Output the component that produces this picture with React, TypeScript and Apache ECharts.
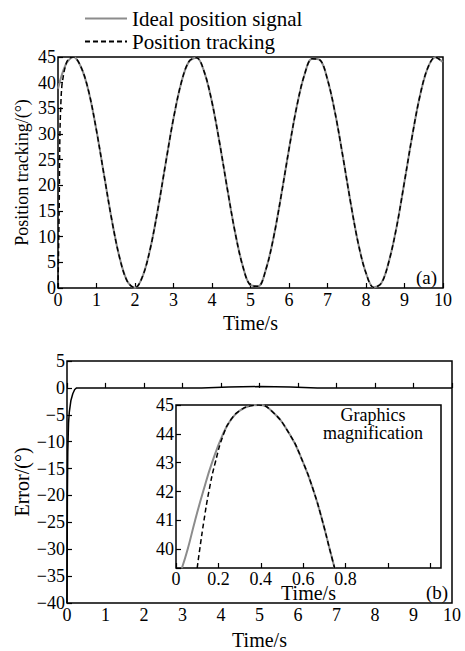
import React, { useEffect, useRef } from "react";
import * as echarts from "echarts";

// ---- data ----
const mainTime = [
  0, 0.2, 0.4, 0.6, 0.8, 1.0, 1.2, 1.4, 1.6, 1.8, 2.0, 2.2, 2.4, 2.6, 2.8, 3.0, 3.2, 3.4, 3.6, 3.8,
  4.0, 4.2, 4.4, 4.6, 4.8, 5.0, 5.2, 5.4, 5.6, 5.8, 6.0, 6.2, 6.4, 6.6, 6.8, 7.0, 7.2, 7.4, 7.6, 7.8,
  8.0, 8.2, 8.4, 8.6, 8.8, 9.0, 9.2, 9.4, 9.6, 9.8, 10.0,
];
const idealPosition = [
  38.8, 43.5, 45, 43.0, 38.2, 30.65, 21.84, 13.14, 5.91, 1.3, 0.04, 2.32, 7.79, 15.59, 24.47, 33.04,
  39.95, 44.1, 44.86, 42.06, 36.19, 28.15, 19.23, 10.82, 4.25, 0.57, 0.34, 3.62, 9.88, 18.13, 27.07,
  35.29, 41.49, 44.65, 44.44, 40.6, 34.0, 25.58, 16.65, 8.64, 2.9, 0.11, 0.95, 5.32, 12.1, 20.74,
  29.6, 37.4, 42.8, 44.97, 44.0,
];
const trackStartTime = [0, 0.03, 0.05, 0.08, 0.1, 0.112, 0.132, 0.155, 0.185, 0.225, 0.26, 0.3];
const trackStartValue = [0, 15, 30, 37, 39.35, 40, 41, 42, 43, 44, 44.5, 44.8];

const errorTime = [0, 0.005, 0.01, 0.02, 0.04, 0.06, 0.1, 0.15, 0.2, 0.25, 3.5, 4.2, 5, 5.8, 6.5, 10];
const errorValue = [-40, -30, -20, -12, -6.5, -4.5, -2.4, -1.1, -0.3, 0, 0, 0.15, 0.25, 0.15, 0, 0];

const insetIdealTime = [0.028, 0.055, 0.09, 0.128, 0.17, 0.222, 0.26, 0.3, 0.35, 0.39, 0.45, 0.535, 0.6, 0.65, 0.69, 0.725, 0.748];
const insetIdealValue = [39.35, 40, 41, 42, 43, 44, 44.5, 44.8, 44.97, 45, 44.8, 44, 43, 42, 41, 40, 39.35];
const insetTrackTime = [0.1, 0.112, 0.132, 0.155, 0.185, 0.225, 0.26, 0.3, 0.35, 0.39, 0.45, 0.535, 0.6, 0.65, 0.69, 0.725, 0.748];
const insetTrackValue = [39.35, 40, 41, 42, 43, 44, 44.5, 44.8, 44.97, 45, 44.8, 44, 43, 42, 41, 40, 39.35];

const mainXTicks = { min: 0, max: 10, interval: 1 };
const posYTicks = { min: 0, max: 45, interval: 5 };
const errYTicks = { min: -40, max: 5, interval: 5 };
const insetXTicks = { min: 0, max: 1.25, interval: 0.2, lastLabel: 0.8 };
const insetYTicks = { min: 39.35, max: 45 };

const FONT = "'Liberation Serif', 'Times New Roman', serif";

const pairs = (xs: number[], ys: number[]) => xs.map((x, i) => [x, ys[i]]);

export default function App() {
  const ref = useRef<HTMLDivElement>(null);
  useEffect(() => {
    if (!ref.current) return;
    const chart = echarts.init(ref.current, undefined, { renderer: "svg" });

    const idealData = pairs(mainTime, idealPosition);
    const trackData = pairs(trackStartTime, trackStartValue).concat(
      pairs(mainTime.slice(2), idealPosition.slice(2))
    );

    const label = { color: "#000", fontFamily: FONT, fontSize: 18 };
    const nameStyle = { color: "#000", fontFamily: FONT, fontSize: 20 };
    const tick = { show: true, inside: true, length: 5, lineStyle: { color: "#000", width: 1.2 } };
    const baseAxis = {
      type: "value" as const,
      axisLine: { show: false },
      axisTick: tick,
      splitLine: { show: false },
      nameTextStyle: nameStyle,
      nameLocation: "middle" as const,
      nameMoveOverlap: false,
    };
    const minus = (v: number) => String(v).replace("-", "\u2212");

    const option: any = {
      animation: false,
      backgroundColor: "#fff",
      textStyle: { fontFamily: FONT },
      legend: {
        orient: "vertical",
        left: 79,
        top: 3,
        itemWidth: 42,
        itemHeight: 20,
        itemGap: 2,
        itemStyle: { opacity: 0 },
        textStyle: { color: "#000", fontFamily: FONT, fontSize: 21 },
        data: ["Ideal position signal", "Position tracking"],
      },
      grid: [
        { left: 58, top: 57, width: 385, height: 231, show: true, borderColor: "#000", borderWidth: 1.5, backgroundColor: "transparent" },
        { left: 67, top: 361, width: 385, height: 244, show: true, borderColor: "#000", borderWidth: 1.5, backgroundColor: "transparent" },
        { left: 176, top: 405, width: 265, height: 163, show: true, borderColor: "#000", borderWidth: 1.5, backgroundColor: "#fff", z: 5 },
      ],
      xAxis: [
        { ...baseAxis, gridIndex: 0, ...mainXTicks, name: "Time/s", nameGap: 25, axisLabel: { ...label, margin: 3 } },
        { ...baseAxis, gridIndex: 1, ...mainXTicks, name: "Time/s", nameGap: 27, axisLabel: { ...label, margin: 3 } },
        {
          ...baseAxis, gridIndex: 2, min: insetXTicks.min, max: insetXTicks.max, interval: insetXTicks.interval,
          name: "Time/s", nameGap: 15, z: 6,
          axisLabel: {
            ...label, margin: 2, showMaxLabel: false,
            formatter: (v: number) => (v <= insetXTicks.lastLabel + 1e-6 ? String(+v.toFixed(1)) : ""),
          },
        },
      ],
      yAxis: [
        {
          ...baseAxis, gridIndex: 0, ...posYTicks, name: "Position tracking/(°)", nameGap: 27,
          nameTextStyle: { ...nameStyle, fontSize: 18 }, axisLabel: { ...label, margin: 2 },
        },
        { ...baseAxis, gridIndex: 1, ...errYTicks, name: "Error/(°)", nameGap: 35, axisLabel: { ...label, margin: 2, formatter: minus } },
        {
          ...baseAxis, gridIndex: 2, ...insetYTicks, z: 6,
          axisLabel: { ...label, margin: 2, formatter: (v: number) => (Number.isInteger(v) ? String(v) : "") },
        },
      ],
      series: [
        {
          name: "Ideal position signal", type: "line", xAxisIndex: 0, yAxisIndex: 0, data: idealData,
          showSymbol: false, symbol: "none", smooth: 0.35, lineStyle: { color: "#8c8c8c", width: 2, type: "solid" },
          itemStyle: { color: "#8c8c8c" },
        },
        {
          name: "Position tracking", type: "line", xAxisIndex: 0, yAxisIndex: 0, data: trackData,
          showSymbol: false, symbol: "none", smooth: 0.35, lineStyle: { color: "#000", width: 1.5, type: [5, 3] },
          itemStyle: { color: "#000" },
        },
        {
          name: "Error", type: "line", xAxisIndex: 1, yAxisIndex: 1, data: pairs(errorTime, errorValue),
          showSymbol: false, symbol: "none", lineStyle: { color: "#000", width: 1.5 },
        },
        {
          name: "Inset ideal", type: "line", xAxisIndex: 2, yAxisIndex: 2, data: pairs(insetIdealTime, insetIdealValue),
          showSymbol: false, symbol: "none", smooth: 0.5, z: 7, lineStyle: { color: "#8c8c8c", width: 2 },
        },
        {
          name: "Inset tracking", type: "line", xAxisIndex: 2, yAxisIndex: 2, data: pairs(insetTrackTime, insetTrackValue),
          showSymbol: false, symbol: "none", smooth: 0.5, z: 8, lineStyle: { color: "#000", width: 1.5, type: [5, 3] },
        },
      ],
      graphic: [
        { type: "text", left: 416, top: 268, z: 20, style: { text: "(a)", fill: "#000", font: `19px ${FONT}` } },
        { type: "text", left: 426, top: 583, z: 20, style: { text: "(b)", fill: "#000", font: `19px ${FONT}` } },
        {
          type: "text", x: 373, y: 406, z: 20,
          style: { text: "Graphics\nmagnification", fill: "#000", font: `18px ${FONT}`, align: "center", lineHeight: 18 },
        },
      ],
    };
    chart.setOption(option);
    return () => chart.dispose();
  }, []);

  return (
    <div
      ref={ref}
      style={{ position: "fixed", left: 0, top: 0, width: 465, height: 651, background: "#fff" }}
    />
  );
}
